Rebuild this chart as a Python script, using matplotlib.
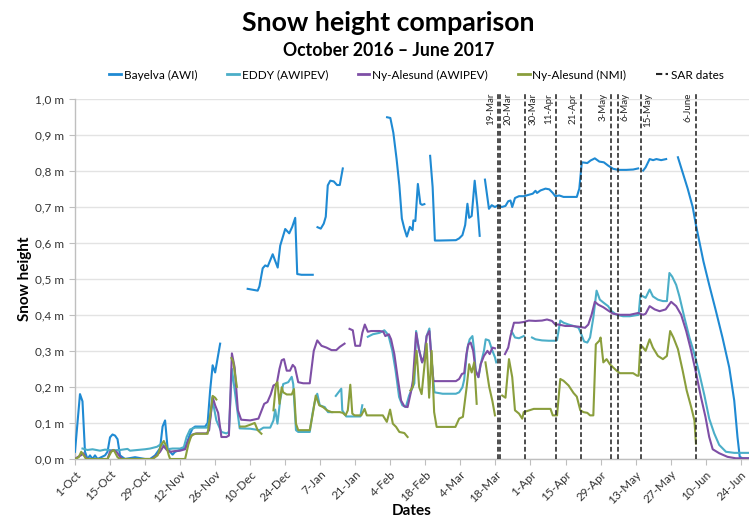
import numpy as np
import pandas as pd
import matplotlib
matplotlib.use("Agg")
import matplotlib.pyplot as plt
import matplotlib.transforms as mtransforms
from matplotlib.ticker import FuncFormatter, MultipleLocator
from matplotlib.lines import Line2D

plt.rcParams['font.family'] = ['Lato', 'DejaVu Sans']

START = pd.Timestamp("2016-10-01")
NAN = float('nan')

# (days since 1-Oct-2016, snow height in m); NAN = data gap
BAYELVA = [
    (0, 0.02), (1, 0.10), (2, 0.18), (3, 0.16), (4, 0.02), (5, 0.0), (6, 0.01), (7, 0.0), (8, 0.01), (9, 0.0),
    (12, 0.01), (13, 0.02), (14, 0.06), (15, 0.068), (16, 0.065), (17, 0.055), (18, 0.01), (20, 0.0), (24, 0.005),
    (28, 0.0), (30, 0.0), (32, 0.01), (34, 0.03), (35, 0.09), (36, 0.107), (37, 0.03), (38, 0.02), (39, 0.012),
    (40, 0.02), (42, 0.025), (44, 0.03), (46, 0.07), (47, 0.085), (48, 0.09), (52, 0.09), (53, 0.1), (54, 0.19),
    (55, 0.26), (56, 0.24), (58, 0.32), (60, NAN),
    (69, 0.472), (71.3, 0.469), (73, 0.467), (73.7, 0.479), (75, 0.529), (76, 0.537), (77, 0.534), (79, 0.568),
    (81, 0.531), (82, 0.592), (84, 0.638), (85.6, 0.626), (86.8, 0.644), (88, 0.669), (88.8, 0.513), (90.5, 0.511),
    (95, 0.511), (96, NAN),
    (96.9, 0.643), (98.2, 0.639), (99.4, 0.653), (100.2, 0.672), (101, 0.759), (102, 0.772), (103.4, 0.77),
    (104.7, 0.76), (105.8, 0.76), (107, 0.806), (110, NAN),
    (124.7, 0.948), (126, 0.946), (127.2, 0.905), (128.5, 0.832), (129.6, 0.759), (130.6, 0.667), (131.6, 0.639),
    (132.6, 0.617), (133.8, 0.644), (134.9, 0.635), (135.2, 0.662), (136, 0.66), (137, 0.763), (138, 0.708),
    (138.7, 0.705), (139.6, 0.707), (140.5, NAN),
    (141.9, 0.841), (142.9, 0.754), (143.8, 0.606), (145.6, 0.606), (152.2, 0.607), (153.5, 0.612), (154.8, 0.621),
    (155.9, 0.649), (156.8, 0.708), (157.5, 0.669), (158.5, 0.674), (159.7, 0.772), (160.8, 0.699), (161.7, 0.619),
    (162.5, NAN),
    (163.8, 0.775), (165.4, 0.694), (166.5, 0.704), (167.8, 0.699), (169.1, 0.704), (170.5, 0.699), (172, 0.702),
    (173.1, 0.715), (174, 0.717), (174.7, 0.699), (175.8, 0.724), (177.4, 0.729), (179.3, 0.729), (181.3, 0.733),
    (182.9, 0.736), (184, 0.744), (184.6, 0.738), (186, 0.745), (188, 0.75), (189.5, 0.748), (190.9, 0.738),
    (191.9, 0.729), (193.5, 0.731), (195.2, 0.727), (200.5, 0.727), (201.5, 0.75), (202.5, 0.823), (204.7, 0.821),
    (206, 0.828), (207.7, 0.834), (209.5, 0.825), (211.3, 0.823), (213, 0.814), (215, 0.805), (217, 0.802),
    (220.3, 0.802), (223, 0.803), (225, 0.806), (226, NAN),
    (227, 0.8), (228, 0.809), (229.6, 0.832), (231, 0.829), (232.3, 0.832), (234.2, 0.829), (236.2, 0.832),
    (238, NAN),
    (240.9, 0.837), (242.8, 0.795), (244.8, 0.75), (246.8, 0.699), (248.1, 0.649), (249.2, 0.612), (251.1, 0.548),
    (253.4, 0.483), (256.1, 0.41), (258.7, 0.337), (261.4, 0.254), (263.4, 0.162), (264.7, 0.061), (265.6, 0.006),
    (266.7, 0.002), (269, 0.002),
]

EDDY = [
    (3, 0.029), (5, 0.025), (7, 0.027), (10, 0.023), (12, 0.026), (15, 0.024), (18, 0.025), (21, 0.028),
    (22, 0.023), (25, 0.025), (28, 0.027), (30, 0.029), (32.8, 0.034), (34.7, 0.043), (36.7, 0.027), (39, 0.029),
    (42, 0.029), (43.5, 0.033), (44.6, 0.061), (46, 0.082), (48, 0.087), (52.8, 0.087), (53.9, 0.107), (55, 0.162),
    (56.5, 0.107), (58.5, 0.075), (60.5, 0.071), (61.5, 0.075), (62.7, 0.25), (64, 0.18), (65.8, 0.085), (70, 0.084),
    (73.7, 0.08), (75.3, 0.087), (78, 0.087), (79.3, 0.107), (80, 0.137), (80.9, 0.098), (82, 0.164), (83.2, 0.208),
    (85.2, 0.213), (86.6, 0.228), (87.2, 0.208), (88.3, 0.08), (89.2, 0.075), (93.8, 0.075), (94.9, 0.126),
    (95.8, 0.158), (96.8, 0.181), (97.8, 0.149), (99.8, 0.144), (101.1, 0.13), (102.8, 0.13), (103.5, NAN),
    (104.2, 0.175), (106.4, 0.195), (106.8, 0.135), (108.4, 0.118), (111.7, 0.118), (114, 0.118), (114.8, 0.149),
    (116, NAN),
    (117, 0.339), (119, 0.346), (121.7, 0.35), (123.6, 0.357), (124.5, 0.35), (125.4, 0.339), (126.8, 0.3),
    (128.1, 0.245), (129.5, 0.172), (130.8, 0.149), (132.2, 0.144), (133.5, 0.176), (134.9, 0.199), (135.6, 0.21),
    (136.3, 0.355), (137.4, 0.305), (138.7, 0.268), (139.6, 0.286), (140.5, 0.341), (141.6, 0.362), (142.3, 0.291),
    (143.6, 0.185), (146.9, 0.181), (152.2, 0.181), (153.5, 0.185), (154.8, 0.199), (155.5, 0.22), (156.8, 0.309),
    (157.7, 0.332), (158.8, 0.341), (159.5, 0.3), (160.1, 0.245), (161.2, 0.227), (162.1, 0.263), (163.4, 0.3),
    (164.1, 0.332), (165.4, 0.329), (166.8, 0.3), (167.8, 0.282), (168.3, 0.268), (170, NAN),
    (174.4, 0.355), (175.8, 0.337), (177.4, 0.335), (179.3, 0.341), (181, NAN),
    (182.6, 0.337), (184, 0.332), (186.6, 0.329), (189.3, 0.328), (191.9, 0.328), (192.6, 0.33), (193.9, 0.384),
    (195.2, 0.378), (197.2, 0.373), (199.2, 0.369), (201.2, 0.364), (202.3, 0.346), (203.4, 0.326), (204.7, 0.323),
    (205.8, 0.337), (207.1, 0.392), (208.4, 0.467), (209.7, 0.442), (211.3, 0.433), (213, 0.424), (214.4, 0.41),
    (216.4, 0.4), (219, 0.396), (221.7, 0.396), (224.3, 0.399), (225.2, 0.4), (225.9, 0.455), (227, 0.451),
    (228, 0.447), (229.6, 0.47), (230.9, 0.451), (232.9, 0.442), (234.9, 0.438), (236.5, 0.438), (237.5, 0.516),
    (238.6, 0.506), (240.2, 0.483), (241.5, 0.451), (243.5, 0.392), (245.5, 0.337), (247.5, 0.291), (249.5, 0.236),
    (251.5, 0.176), (253.4, 0.112), (255.4, 0.071), (257.4, 0.039), (260.1, 0.02), (263.4, 0.017), (269, 0.017),
]

NY_AWIPEV = [
    (0, 0.0), (1, 0.005), (2.6, 0.011), (3.4, 0.016), (4.4, 0.002), (6, 0.0), (13, 0.0), (14, 0.02), (15.3, 0.025),
    (16.6, 0.02), (18, 0.006), (19, 0.0), (30.8, 0.0), (32.8, 0.011), (34, 0.02), (35.4, 0.036), (36.7, 0.025),
    (38, 0.02), (40, 0.022), (42, 0.023), (44, 0.027), (45.3, 0.052), (47, 0.068), (48.6, 0.071), (52.6, 0.071),
    (53.6, 0.08), (55, 0.172), (56, 0.149), (57.2, 0.128), (58.5, 0.061), (60.5, 0.061), (61.5, 0.065),
    (62.7, 0.293), (63.8, 0.254), (65.1, 0.135), (66.4, 0.109), (70, 0.107), (73.3, 0.112), (74.2, 0.128),
    (75.6, 0.153), (76.9, 0.158), (78.2, 0.179), (79.3, 0.204), (80.6, 0.208), (81.7, 0.25), (82.6, 0.274),
    (83.5, 0.277), (84.6, 0.245), (85.9, 0.245), (87, 0.261), (87.9, 0.254), (89.2, 0.213), (91.2, 0.21),
    (93.8, 0.21), (95.4, 0.3), (96.8, 0.329), (98.5, 0.314), (100.5, 0.309), (102.5, 0.302), (104.4, 0.302),
    (105.8, 0.311), (107.7, 0.32), (108.7, NAN),
    (109.7, 0.361), (111, 0.357), (112, 0.314), (113.9, 0.314), (114.8, 0.35), (115.8, 0.373), (117, 0.353),
    (118.3, 0.355), (121.7, 0.355), (123.2, 0.353), (124, 0.341), (125.4, 0.346), (126.3, 0.332), (127.6, 0.291),
    (128.9, 0.227), (130.3, 0.162), (131.6, 0.146), (132.9, 0.144), (134.2, 0.185), (135, 0.217), (136.3, 0.35),
    (137.4, 0.305), (138.7, 0.268), (139.6, 0.286), (140.5, 0.341), (141.6, 0.355), (142.3, 0.291), (143.2, 0.216),
    (146.9, 0.216), (152.2, 0.216), (153.5, 0.222), (154.6, 0.236), (155.5, 0.238), (156.4, 0.291), (157.2, 0.318),
    (158.1, 0.323), (159.1, 0.3), (160.1, 0.245), (161.2, 0.227), (162.1, 0.263), (163.4, 0.286), (164.8, 0.3),
    (165.7, 0.291), (166.8, 0.309), (167.8, 0.307), (169, NAN),
    (171.8, 0.291), (173.1, 0.309), (174, 0.341), (175.4, 0.378), (177.4, 0.378), (179.3, 0.38), (181.3, 0.384),
    (184, 0.383), (186.6, 0.384), (188.6, 0.387), (190.6, 0.383), (191.9, 0.373), (193.2, 0.373), (195.9, 0.369),
    (198.5, 0.369), (201.2, 0.367), (203.8, 0.364), (205.1, 0.373), (206.4, 0.4), (207.7, 0.436), (209.1, 0.428),
    (211.1, 0.421), (213, 0.412), (215, 0.403), (217.7, 0.4), (221.7, 0.4), (225, 0.405), (227, 0.4), (228, 0.403),
    (229.6, 0.424), (231.6, 0.415), (233.6, 0.41), (236, 0.415), (238.2, 0.436), (240.2, 0.424), (242.2, 0.4),
    (244.2, 0.355), (246.2, 0.3), (248.1, 0.24), (250.1, 0.172), (251.9, 0.117), (253.4, 0.061), (254.8, 0.027),
    (257.4, 0.016), (260.7, 0.006), (264, 0.002), (269, 0.002),
]

NY_NMI = [
    (0, 0.0), (1.5, 0.005), (2.5, 0.02), (3.5, 0.01), (4.5, 0.0), (13, 0.0), (14.5, 0.02), (15.5, 0.025),
    (17, 0.005), (18, 0.0), (31, 0.0), (33, 0.01), (34.5, 0.04), (35.5, 0.05), (36.5, 0.035), (37.5, 0.01),
    (38, 0.0), (44, 0.0), (45.3, 0.04), (46.5, 0.065), (48, 0.07), (53, 0.07), (54, 0.12), (55, 0.175),
    (56, 0.17), (56.5, 0.165), (58, NAN),
    (62.5, 0.28), (63.2, 0.27), (64.7, 0.2), (65.3, NAN),
    (66, 0.09), (68, 0.09), (70, 0.095), (71.8, 0.1), (73, 0.08), (74.5, 0.07), (76, NAN),
    (79.3, 0.135), (80.3, 0.208), (80.9, 0.213), (81.7, 0.153), (82.6, 0.199), (83.2, 0.185), (84.6, 0.179),
    (86.6, 0.179), (87.5, 0.194), (88.3, 0.098), (89.2, 0.08), (93.8, 0.08), (94.9, 0.121), (96.2, 0.176),
    (97.6, 0.149), (99.1, 0.144), (100.7, 0.135), (102.5, 0.13), (105.8, 0.13), (107, 0.128), (108.1, 0.121),
    (109, 0.135), (110, 0.206), (110.8, 0.126), (111.7, 0.121), (114.4, 0.121), (115.7, 0.139), (116.6, 0.121),
    (119, 0.121), (123, 0.121), (124.6, 0.103), (125.9, 0.137), (127, 0.098), (128.3, 0.089), (129.6, 0.075),
    (131.6, 0.072), (132.9, 0.061), (133.4, NAN),
    (134, 0.19), (135, 0.2), (136.5, 0.3), (137.5, 0.2), (138.5, 0.18), (140.5, 0.32), (141.5, 0.17), (142.5, 0.3),
    (143.5, 0.13), (144.5, 0.089), (152, 0.089), (153.5, 0.112), (155, 0.117), (156.5, 0.2), (157.5, 0.263),
    (158.5, 0.24), (159.5, 0.268), (160.5, 0.153), (162, NAN),
    (164, 0.268), (165.5, 0.2), (166.8, 0.16), (167.8, 0.121), (169, NAN),
    (170.7, 0.176), (172, 0.17), (173.4, 0.277), (174.7, 0.227), (175.8, 0.135), (177.4, 0.126), (178.7, 0.112),
    (179.3, 0.13), (183.3, 0.139), (186.6, 0.139), (190, 0.139), (190.9, 0.121), (192.6, 0.121), (193.9, 0.222),
    (195.2, 0.217), (197.2, 0.204), (199.2, 0.183), (200.5, 0.173), (201.9, 0.135), (203.2, 0.13), (204.7, 0.128),
    (205.8, 0.121), (207.1, 0.121), (208.1, 0.318), (209.5, 0.328), (210, 0.337), (211.1, 0.268), (212.4, 0.277),
    (213.7, 0.263), (215, 0.254), (216.4, 0.245), (217.7, 0.238), (223, 0.238), (224.6, 0.231), (225.2, 0.231),
    (225.9, 0.317), (227, 0.309), (228, 0.3), (229.6, 0.332), (230.9, 0.309), (232.9, 0.286), (234.9, 0.277),
    (236.5, 0.286), (237.8, 0.355), (239.1, 0.337), (240.9, 0.305), (242.8, 0.245), (244.4, 0.19), (246.2, 0.144),
    (247.5, 0.107), (248.1, 0.043),
]

SERIES_NAMES = ["Bayelva (AWI)", "EDDY (AWIPEV)", "Ny-Alesund (AWIPEV)", "Ny-Alesund (NMI)"]
SERIES_DATA = [BAYELVA, EDDY, NY_AWIPEV, NY_NMI]

SAR_DATES = ["2017-03-19", "2017-03-20", "2017-03-30", "2017-04-11", "2017-04-21",
             "2017-05-03", "2017-05-06", "2017-05-15", "2017-06-06"]
SAR_LABELS = ["19-Mar", "20-Mar", "30-Mar", "11-Apr", "21-Apr", "3-May", "6-May", "15-May", "6-June"]

TICK_DATES = pd.date_range("2016-10-01", "2017-06-24", freq="14D")
TICK_LABELS = [f"{d.day}-{d.strftime('%b')}" for d in TICK_DATES]

# ---------------------------------------------------------------- drawing
COLORS = ["#1F8AD3", "#4BAEC8", "#7E4FA6", "#8A9E3C"]
SAR_SIDE = ["left", "right", "right", "left", "left", "left", "right", "right", "left"]
SAR_STYLE = dict(color="#262626", lw=1.15, linestyle=(0, (3.0, 1.6)))

fig = plt.figure(figsize=(7.49, 5.22), dpi=100)
ax = fig.add_axes([0.1001, 0.1207, 0.8999, 0.6906])

for name, data, col in zip(SERIES_NAMES, SERIES_DATA, COLORS):
    d = np.array([p[0] for p in data], dtype=float)
    v = np.array([p[1] for p in data], dtype=float)
    x = START + pd.to_timedelta(d, unit="D")
    ax.plot(x, v, color=col, lw=1.5, label=name, zorder=3)

trans = mtransforms.blended_transform_factory(ax.transData, ax.transAxes)
for ds, lab, side in zip(SAR_DATES, SAR_LABELS, SAR_SIDE):
    xd = pd.Timestamp(ds)
    ax.plot([xd, xd], [0, 1.018], transform=trans, zorder=4, clip_on=False, **SAR_STYLE)
    off = -2.0 if side == "left" else 2.0
    ax.text(xd, 1.015, lab, transform=trans + mtransforms.ScaledTranslation(off / 72, 0, fig.dpi_scale_trans),
            rotation=90, ha="right" if side == "left" else "left", va="top",
            fontsize=7, color="#262626", zorder=5)

ax.set_xlim(START, START + pd.Timedelta(days=269.3))
ax.set_ylim(0, 1.0)
ax.yaxis.set_major_locator(MultipleLocator(0.1))
ax.yaxis.set_major_formatter(FuncFormatter(lambda v, p: f"{v:.1f}".replace(".", ",") + " m"))
ax.set_xticks(TICK_DATES)
ax.set_xticklabels(TICK_LABELS, rotation=45, ha="right", va="top", rotation_mode="anchor")
ax.tick_params(axis="x", labelsize=8.5, colors="#333333", length=4, color="#bfbfbf", pad=3)
ax.tick_params(axis="y", labelsize=8.5, colors="#333333", length=4, color="#bfbfbf", pad=4)
ax.grid(axis="y", color="#e3e3e3", lw=1.0, zorder=0)
ax.set_axisbelow(True)
for s in ["top", "right"]:
    ax.spines[s].set_visible(False)
for s in ["left", "bottom"]:
    ax.spines[s].set_color("#bfbfbf")
    ax.spines[s].set_linewidth(1.0)

fig.text(25 / 749, 0.466, "Snow height", rotation=90, ha="center", va="center", fontsize=11, fontweight="bold")
fig.text(0.55, 0.022, "Dates", ha="center", va="center", fontsize=11, fontweight="bold")

fig.text(0.518, 0.955, "Snow height comparison", ha="center", va="center", fontsize=19.3, fontweight="bold")
fig.text(0.519, 0.903, "October 2016 \u2013 June 2017", ha="center", va="center", fontsize=12.7, fontweight="bold")

handles = [Line2D([], [], color=c, lw=2) for c in COLORS]
handles.append(Line2D([], [], **{**SAR_STYLE, "lw": 1.5}))
labels = SERIES_NAMES + ["SAR dates"]
fig.legend(handles, labels, loc="center", bbox_to_anchor=(0.556, 1 - 75 / 522), ncol=5, frameon=False,
           fontsize=8.5, handlelength=1.0, handletextpad=0.25, columnspacing=2.5)

fig.savefig("out.png", dpi=100)
